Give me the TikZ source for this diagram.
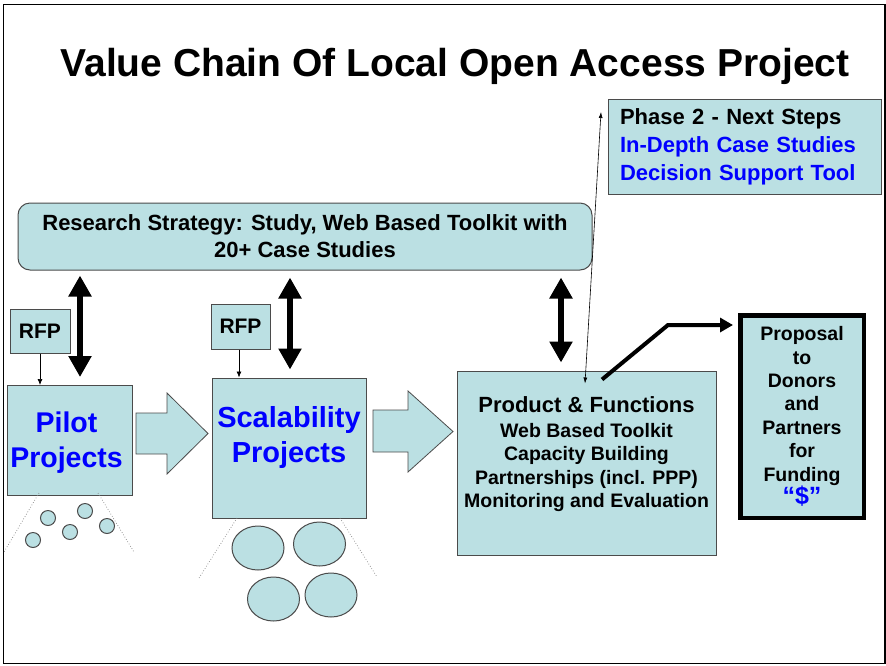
\documentclass[tikz,border=0pt]{standalone}
\usepackage{fontspec}
\setmainfont{Liberation Sans}
\usetikzlibrary{arrows.meta,calc,positioning}

\definecolor{boxfill}{RGB}{187,224,227}
\definecolor{boxline}{RGB}{75,75,75}
\newcommand{\fsize}[2]{\fontsize{#1}{#2}\selectfont\bfseries}

\begin{document}
\begin{tikzpicture}[x=1pt,y=-1pt,
    box/.style={draw=boxline,fill=boxfill,line width=1pt,inner sep=0pt},
    bigtext/.style={font=\fsize{28.5}{35},text=blue,align=center},
    bothways/.style={{Triangle[width=22pt,length=21pt]}-{Triangle[width=22pt,length=21pt]},line width=6pt},
    feed/.style={-{Latex[length=6pt,width=5pt]},line width=0.7pt},
    spread/.style={dotted,gray,line width=0.7pt},
    block/.style={draw=boxline,fill=boxfill,line width=0.8pt}]

    \useasboundingbox (0,0) rectangle (886,665);
    \draw[line width=1.5pt] (3.5,4.3) rectangle (885,663.5);

    \node[font=\fsize{39}{44},anchor=base] (title) at (455,76) {Value Chain Of Local Open Access Project};

    % phase 2 and the research strategy
    \node[box,minimum width=273pt,minimum height=95pt,text width=249pt,align=left,font=\fsize{22}{28}] (phase) at (744.5,146.5)
        {Phase 2 - Next Steps\\\textcolor{blue}{In-Depth Case Studies}\\\textcolor{blue}{Decision Support Tool}};
    \node[box,rounded corners=12pt,minimum width=574pt,minimum height=67pt,align=center,font=\fsize{22}{27}] (research) at (305,236.5)
        {Research Strategy: Study, Web Based Toolkit with\\20+ Case Studies};

    % project stages
    \node[box,minimum width=60pt,minimum height=44pt,font=\fsize{21}{25}] (rfpa) at (40,331) {RFP};
    \node[box,minimum width=125pt,minimum height=110pt] (pilot) at (69.5,440.5) {};
    \node[bigtext] (pilottext) at (66.5,443) {Pilot\\Projects};
    \node[box,minimum width=59pt,minimum height=45pt,font=\fsize{21}{25}] (rfpb) at (240.5,326.5) {RFP};
    \node[box,minimum width=154pt,minimum height=140pt] (scal) at (289,448) {};
    \node[bigtext,font=\fsize{29}{35}] (scaltext) at (289,437) {Scalability\\Projects};
    \node[box,minimum width=259pt,minimum height=184pt] (prod) at (586.5,463) {};
    \node[align=center,font=\fsize{19.5}{23.5}] (prodtext) at (586.5,454)
        {{\fontsize{22}{25}\selectfont Product \& Functions}\\[1.5pt]Web Based Toolkit\\Capacity Building\\Partnerships (incl. PPP)\\Monitoring and Evaluation};
    \node[box,draw=black,line width=4.5pt,minimum width=123.5pt,minimum height=202.5pt,align=center,font=\fsize{19.5}{23.4}] (prop) at (802,416.5)
        {Proposal\\to\\Donors\\and\\Partners\\for\\Funding\\{\fontsize{25}{27}\selectfont\textcolor{blue}{“\$”}}};

    % block arrows between stages
    \draw[block] (136,413) -- (167,413) -- (167,393) -- (208,433.5) -- (167,474) -- (167,454) -- (136,454) -- cycle;
    \draw[block] (373,410) -- (408,410) -- (408,391) -- (453,431.5) -- (408,472) -- (408,452) -- (373,452) -- cycle;

    % links to the research strategy
    \draw[bothways,shorten <=5pt,shorten >=8pt] (research.south -| 80,0) -- (pilot.north -| 80,0);
    \draw[bothways,shorten <=7pt,shorten >=8pt] (research.south -| 290,0) -- (scal.north -| 290,0);
    \draw[bothways,shorten <=7pt,shorten >=8pt] (research.south -| 561,0) -- (prod.north -| 561,0);

    \draw[feed] (rfpa.south) -- (pilot.north -| rfpa.south);
    \draw[feed] (rfpb.south -| 239,0) -- (scal.north -| 239,0);

    \coordinate (phaseend) at (601,112);
    \coordinate (prodtop) at ($(prod.north)+(-1.5,13)$);
    \draw[{Latex[length=6pt,width=4pt]}-{Latex[length=6pt,width=4pt]},line width=0.6pt] (prodtop) -- (phaseend);

    \coordinate (bend) at (668,325);
    \draw[line width=4pt,-{Triangle[width=14pt,length=13pt]},shorten >=5pt] ($(prod.north)+(15.5,9)$) -- (bend) -- (prop.west |- bend);

    % small projects under each stage
    \draw[spread] (39,493) -- (4,552);
    \draw[spread] (98,493) -- (134,552);
    \foreach \cx/\cy in {48/518,85/511,33/540,70/532,107/526}
        \draw[box] (\cx,\cy) circle (7.5pt);

    \draw[spread] (237,518) -- (199,578);
    \draw[spread] (340,518) -- (377,577);
    \foreach \cx/\cy in {258/548,319.5/544,273.5/599,331/595}
        \draw[box] (\cx,\cy) ellipse (26pt and 22pt);

\end{tikzpicture}
\end{document}
